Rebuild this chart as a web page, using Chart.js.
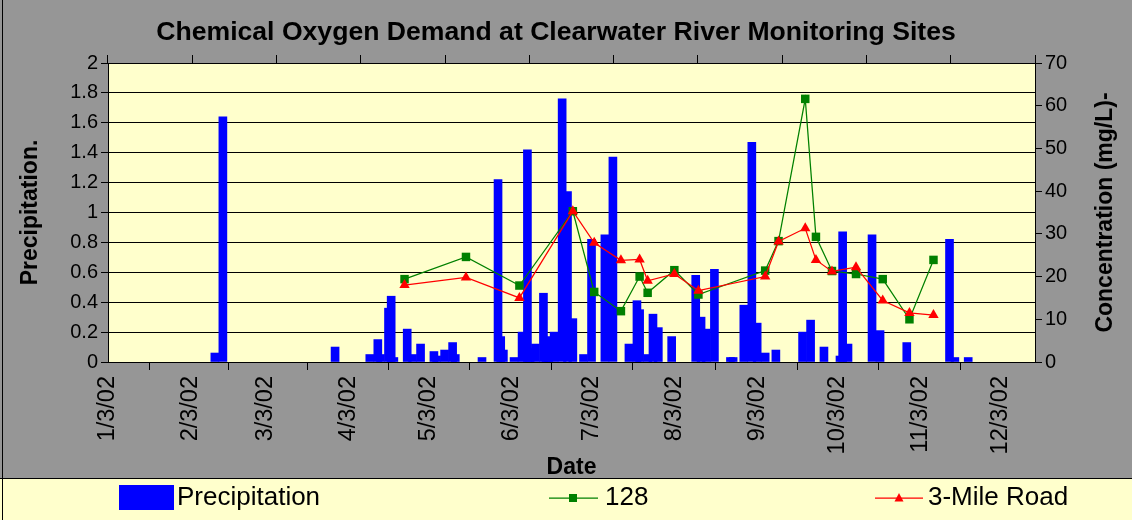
<!DOCTYPE html>
<html>
<head>
<meta charset="utf-8">
<script src="https://cdn.jsdelivr.net/npm/chart.js@4.4.1/dist/chart.umd.min.js"></script>
<style>
  html, body { margin: 0; padding: 0; background: #969696; }
  canvas { display: block; }
</style>
</head>
<body>
<canvas id="myChart" width="1132" height="520"></canvas>
<script>
// COD at Clearwater River sites - precipitation bars + two concentration lines

// x axis ticks (3rd of every month)
const tickLabels = ['1/3/02', '2/3/02', '3/3/02', '4/3/02', '5/3/02', '6/3/02',
  '7/3/02', '8/3/02', '9/3/02', '10/3/02', '11/3/02', '12/3/02'];

// Precipitation (left axis)
const precipDates = ['2/12', '2/15', '3/29', '4/11', '4/14', '4/15', '4/18', '4/19', '4/20', '4/25',
  '4/27', '4/30', '5/5', '5/6', '5/9', '5/12', '5/13', '5/23', '5/29', '5/30',
  '5/31', '6/4', '6/7', '6/9', '6/10', '6/12', '6/15', '6/16', '6/17', '6/19',
  '6/22', '6/24', '6/26', '6/30', '7/3', '7/8', '7/11', '7/17', '7/20', '7/21',
  '7/24', '7/26', '7/28', '8/2', '8/11', '8/13', '8/15', '8/18', '8/24', '8/25',
  '8/29', '9/1', '9/3', '9/6', '9/10', '9/20', '9/23', '9/28', '10/4', '10/5',
  '10/7', '10/16', '10/19', '10/29', '11/14', '11/16', '11/21'];
const precipValues = [0.06, 1.64, 0.10, 0.05, 0.15, 0.05, 0.36, 0.44, 0.03, 0.22,
  0.05, 0.12, 0.07, 0.04, 0.08, 0.13, 0.05, 0.03, 1.22, 0.17,
  0.08, 0.03, 0.20, 1.42, 0.09, 0.12, 0.46, 0.06, 0.17, 0.20,
  1.76, 1.14, 0.29, 0.05, 0.82, 0.85, 1.37, 0.12, 0.41, 0.35,
  0.05, 0.32, 0.23, 0.17, 0.58, 0.30, 0.22, 0.62, 0.03, 0.03,
  0.38, 1.47, 0.26, 0.06, 0.08, 0.20, 0.28, 0.10, 0.04, 0.87,
  0.12, 0.85, 0.21, 0.13, 0.82, 0.03, 0.03];

// Concentration (right axis), mg/L
const siteDates = ['4/24', '5/17', '6/6', '6/26', '7/4', '7/14', '7/21', '7/24', '8/3', '8/12',
  '9/6', '9/11', '9/21', '9/25', '10/1', '10/10', '10/20', '10/30', '11/8'];
const site128 = [19.4, 24.6, 17.9, 35.3, 16.4, 11.9, 20.0, 16.2, 21.5, 15.8,
  21.4, 28.3, 61.6, 29.3, 21.3, 20.6, 19.4, 10.0, 23.9];
const site3Mile = [18.0, 19.8, 15.0, 35.3, 27.9, 23.8, 24.0, 19.0, 20.6, 16.7,
  20.0, 28.2, 31.3, 23.9, 21.2, 22.2, 14.4, 11.5, 11.0];

const FONT = '"Liberation Sans", Arial, sans-serif';
const monthStart = [0, 31, 59, 90, 120, 151, 181, 212, 243, 273, 304, 334];

// 'm/d' -> day of year (2002, no leap day)
const dayOfYear = (s) => {
  const parts = s.split('/').map(Number);
  return monthStart[parts[0] - 1] + parts[1];
};
const toPoints = (dates, values) => dates.map((d, i) => ({ x: dayOfYear(d), y: values[i] }));
const tickDays = tickLabels.map(dayOfYear);

Chart.defaults.font.family = FONT;
Chart.defaults.color = '#000';

// backgrounds, title, right axis title and legend (Excel look)
const excelLook = {
  id: 'excelLook',
  beforeDraw(chart) {
    const { ctx, chartArea: a, width, height } = chart;
    ctx.save();
    ctx.fillStyle = '#969696';
    ctx.fillRect(0, 0, width, height);
    ctx.fillStyle = '#FFFFCC';
    ctx.fillRect(a.left, a.top, a.right - a.left, a.bottom - a.top);
    ctx.fillRect(0, 478, width, height - 478);
    ctx.strokeStyle = '#000';
    ctx.lineWidth = 1;
    ctx.beginPath();
    ctx.moveTo(0, 478.5); ctx.lineTo(width, 478.5);
    ctx.moveTo(2.5, 0); ctx.lineTo(2.5, height);
    ctx.stroke();
    ctx.restore();
  },
  afterDraw(chart) {
    const { ctx, chartArea: a } = chart;
    const ds = chart.data.datasets;
    ctx.save();
    ctx.fillStyle = '#000';
    ctx.textBaseline = 'middle';

    // chart title
    ctx.font = 'bold 26.6px ' + FONT;
    ctx.textAlign = 'center';
    ctx.fillText('Chemical Oxygen Demand at Clearwater River Monitoring Sites', 556, 33);

    // right axis title, reads bottom to top like the left one
    ctx.save();
    ctx.translate(1106, (a.top + a.bottom) / 2);
    ctx.rotate(-Math.PI / 2);
    ctx.font = 'bold 23px ' + FONT;
    ctx.fillText('Concentration (mg/L)-', 0, 0);
    ctx.restore();

    // legend
    const ly = 498;
    ctx.textAlign = 'left';
    ctx.font = '26px ' + FONT;
    ctx.fillStyle = ds[2].backgroundColor;
    ctx.fillRect(119, 485, 55, 25);
    ctx.fillStyle = '#000';
    ctx.fillText('Precipitation', 177, ly);

    ctx.strokeStyle = ds[1].borderColor;
    ctx.lineWidth = 1.25;
    ctx.beginPath(); ctx.moveTo(549, ly); ctx.lineTo(598, ly); ctx.stroke();
    ctx.fillStyle = ds[1].pointBackgroundColor;
    ctx.fillRect(569, ly - 4, 8, 8);
    ctx.fillStyle = '#000';
    ctx.fillText('128', 605, ly);

    ctx.strokeStyle = ds[0].borderColor;
    ctx.beginPath(); ctx.moveTo(875, ly); ctx.lineTo(923, ly); ctx.stroke();
    ctx.fillStyle = ds[0].pointBackgroundColor;
    ctx.beginPath();
    ctx.moveTo(899, ly - 5); ctx.lineTo(903.5, ly + 3.5); ctx.lineTo(894.5, ly + 3.5);
    ctx.closePath(); ctx.fill();
    ctx.fillStyle = '#000';
    ctx.fillText('3-Mile Road', 928, ly);
    ctx.restore();
  }
};

const context = document.getElementById('myChart').getContext('2d');
const myChart = new Chart(context, {
  type: 'bar',
  data: {
    datasets: [{
      type: 'line',
      label: '3-Mile Road',
      data: toPoints(siteDates, site3Mile),
      yAxisID: 'y2',
      borderColor: '#FF0000',
      borderWidth: 1.25,
      pointStyle: 'triangle',
      pointRadius: 6,
      pointBackgroundColor: '#FF0000',
      pointBorderColor: '#FF0000',
      pointBorderWidth: 0,
      tension: 0,
      order: 0
    }, {
      type: 'line',
      label: '128',
      data: toPoints(siteDates, site128),
      yAxisID: 'y2',
      borderColor: '#008000',
      borderWidth: 1.25,
      pointStyle: 'rect',
      pointRadius: 6,
      pointBackgroundColor: '#008000',
      pointBorderColor: '#008000',
      pointBorderWidth: 0,
      tension: 0,
      order: 1
    }, {
      type: 'bar',
      label: 'Precipitation',
      data: toPoints(precipDates, precipValues),
      yAxisID: 'y',
      backgroundColor: '#0000FF',
      borderWidth: 0,
      barThickness: 8,
      order: 2
    }]
  },
  options: {
    responsive: false,
    animation: false,
    events: [],
    layout: { padding: { left: 0, right: 0, top: 0, bottom: 42 } },
    plugins: {
      legend: { display: false },
      tooltip: { enabled: false }
    },
    scales: {
      x: {
        type: 'linear',
        position: 'bottom',
        offset: false,
        min: 3,
        max: 350,
        afterBuildTicks: (scale) => { scale.ticks = tickDays.map(v => ({ value: v })); },
        afterFit: (scale) => { scale.height = 116; },
        grid: { drawOnChartArea: false, tickLength: 8, color: '#000' },
        border: { color: '#000' },
        ticks: {
          autoSkip: false,
          minRotation: 90,
          maxRotation: 90,
          padding: 6,
          font: { size: 23.5 },
          callback: (value, index) => tickLabels[index]
        },
        title: {
          display: true,
          text: 'Date',
          font: { size: 23, weight: 'bold' },
          padding: { top: 0, bottom: -3 }
        }
      },
      x2: {
        type: 'linear',
        position: 'top',
        min: 0,
        max: 10,
        afterFit: (scale) => { scale.height = 63; },
        grid: { drawOnChartArea: false, tickLength: 8, color: '#000' },
        border: { color: '#000' },
        ticks: { display: false, stepSize: 1 }
      },
      y: {
        position: 'left',
        min: 0,
        max: 2,
        afterFit: (scale) => { scale.width = 108; },
        grid: { color: '#000', tickLength: 7 },
        border: { color: '#000' },
        ticks: {
          stepSize: 0.2,
          padding: 3,
          font: { size: 20 },
          callback: (v) => String(+v.toFixed(1))
        },
        title: {
          display: true,
          text: 'Precipitation.',
          font: { size: 23, weight: 'bold' },
          padding: { top: 17, bottom: 0 }
        }
      },
      y2: {
        position: 'right',
        min: 0,
        max: 70,
        afterFit: (scale) => { scale.width = 97; },
        grid: { drawOnChartArea: false, tickLength: 7, color: '#000' },
        border: { color: '#000' },
        ticks: { stepSize: 10, padding: 3, font: { size: 20 } }
      }
    }
  },
  plugins: [excelLook]
});
</script>
</body>
</html>
